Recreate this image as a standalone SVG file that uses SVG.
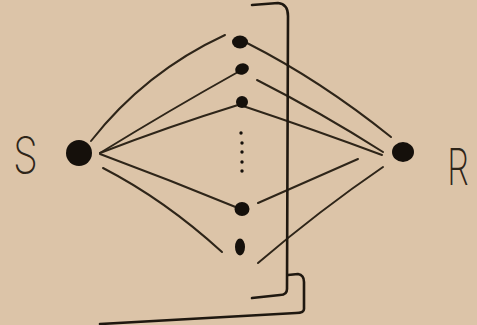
<svg xmlns="http://www.w3.org/2000/svg" width="477" height="325" viewBox="0 0 477 325">
<style>
.ln{fill:none;stroke:#2e2519;stroke-width:2;stroke-linecap:round;stroke-linejoin:round}
.bk{fill:none;stroke:#1f1810;stroke-width:2.6;stroke-linecap:round;stroke-linejoin:round}
.dot{fill:#15100b}
.lbl{fill:#2e2519;font-family:Inter,"DejaVu Sans",sans-serif;font-weight:200;font-size:50px}
</style>
<rect width="477" height="325" fill="#dcc4a8"/>
<g id="connectors">
<path class="ln" d="M91,141 Q145,72 225,35"/>
<path class="ln" d="M100,153 Q170,110 238,72"/>
<path class="ln" d="M100,153 Q170,126 238,105"/>
<path class="ln" d="M100,154 Q170,180 238,208"/>
<path class="ln" d="M103,168 Q165,200 222,252"/>
<path class="ln" d="M247,43 Q320,80 391,137"/>
<path class="ln" d="M257,80 Q320,112 383,152"/>
<path class="ln" d="M243,106 Q315,130 382,155"/>
<path class="ln" d="M258,203 Q310,180 358,159"/>
<path class="ln" d="M258,263 Q320,210 383,167"/>
<path class="bk" d="M252,5 L278,3 Q288,4 288,16 L287,289 Q287,295 280,295 L252,298"/>
<path class="bk" d="M288,275 L298,274 Q304,275 304,282 L304,309 Q304,313 296,313 L100,324"/>
</g>
<g id="S">
<circle class="dot" cx="79" cy="153" r="13"/>
<text class="lbl" transform="translate(13,173) scale(0.8,1)" x="0" y="0">S</text>
</g>
<g id="R">
<ellipse class="dot" cx="403" cy="152" rx="11" ry="10"/>
<text class="lbl" transform="translate(447,185) scale(0.7,1.02)" x="0" y="0">R</text>
</g>
<g id="n1"><ellipse class="dot" cx="240" cy="42" rx="8" ry="6.5"/></g>
<g id="n2"><ellipse class="dot" cx="242" cy="69" rx="7" ry="5.5" transform="rotate(-20 242 69)"/></g>
<g id="n3"><ellipse class="dot" cx="242" cy="102" rx="6" ry="6"/></g>
<g id="ellipsis">
<circle class="dot" cx="241" cy="133" r="1.7"/>
<circle class="dot" cx="242" cy="143" r="1.7"/>
<circle class="dot" cx="242" cy="152" r="1.7"/>
<circle class="dot" cx="242" cy="162" r="1.7"/>
<circle class="dot" cx="242" cy="171" r="1.7"/>
</g>
<g id="n4"><ellipse class="dot" cx="242" cy="209" rx="7.5" ry="7"/></g>
<g id="n5"><ellipse class="dot" cx="240" cy="247" rx="5" ry="8.5"/></g>
</svg>
